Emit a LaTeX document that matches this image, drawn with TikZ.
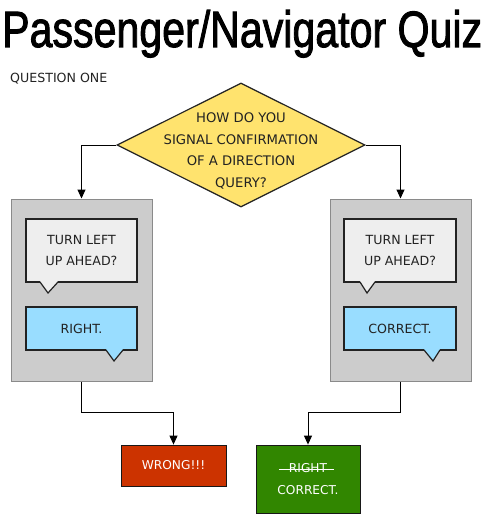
\documentclass[tikz,border=0pt]{standalone}
\usepackage{fontspec}
\usepackage{graphicx}
\setmainfont{DejaVu Sans}
\newfontfamily\titlefont[FakeBold=2]{Liberation Sans}
\usetikzlibrary{shapes.geometric,arrows.meta}
\definecolor{qyellow}{HTML}{FFE36E}
\definecolor{qgray}{HTML}{CCCCCC}
\definecolor{qgrayline}{HTML}{8A8A8A}
\definecolor{qwhite}{HTML}{EEEEEE}
\definecolor{qblue}{HTML}{99DDFF}
\definecolor{qred}{HTML}{CC3300}
\definecolor{qgreen}{HTML}{318600}
\definecolor{qtext}{HTML}{222222}
\newcommand\strikeit[1]{\setbox0\hbox{#1}\rlap{\hskip-10pt\raisebox{0.4ex}{\rule{\dimexpr\wd0+17pt\relax}{0.9pt}}}\box0}
\newcommand\calltail[5]{%
  \fill[#5] ([xshift=#2pt,yshift=0.9pt]#1.south west) -- ([xshift=#4pt,yshift=-11pt]#1.south west) -- ([xshift=#3pt,yshift=0.9pt]#1.south west) -- cycle;
  \draw[calloutline] ([xshift=#2pt]#1.south west) -- ([xshift=#4pt,yshift=-11pt]#1.south west) -- ([xshift=#3pt]#1.south west);}
\tikzset{
  txt/.style={text=qtext, font=\fontsize{12.6}{21}\selectfont, align=center},
  calloutline/.style={draw=qtext, line width=1.2pt, line join=miter},
  question/.style={diamond, draw=qtext, fill=qyellow, line width=1.2pt, inner sep=0pt, minimum width=248pt, minimum height=124pt},
  graybox/.style={draw=qgrayline, fill=qgray, line width=1pt, minimum width=141pt, minimum height=182pt},
  callbox/.style={calloutline, outer sep=0pt, inner sep=0pt, txt, minimum width=111pt},
  endbox/.style={draw=qtext!70!black, line width=0.8pt, text=white, font=\fontsize{12.2}{22}\selectfont, align=center, minimum width=105pt},
  arr/.style={draw=black, line width=1pt, -{Triangle[length=9pt,width=8pt]}}
}
\begin{document}
\begin{tikzpicture}[x=1pt,y=-1pt]
\useasboundingbox[fill=white] (0,0) rectangle (485,516);
\node[anchor=base west, inner sep=0pt] (title) at (2,47) {\resizebox{480pt}{37pt}{\titlefont Passenger/Navigator Quiz}};
\node[anchor=base west, inner sep=0pt, text=qtext, font=\fontsize{12.6}{14}\selectfont] (q1) at (10,83) {QUESTION ONE};

\node[question] (q) at (241,145) {};
\node[txt, font=\fontsize{13.2}{21.5}\selectfont] (qt) at (241,151) {HOW DO YOU\\SIGNAL CONFIRMATION\\OF A DIRECTION\\QUERY?};

\node[graybox] (gl) at (81.5,290) {};
\node[graybox] (gr) at (400.5,290) {};

\node[callbox, fill=qwhite, minimum height=63pt] (wl) at (81.5,250.5) {TURN LEFT\\UP AHEAD?};
\calltail{wl}{14}{32}{22}{qwhite}
\node[callbox, fill=qblue, minimum height=43pt] (bl) at (81.5,328.5) {RIGHT.};
\calltail{bl}{80}{97}{88}{qblue}

\node[callbox, fill=qwhite, minimum height=63pt, minimum width=112pt] (wr) at (400,250.5) {TURN LEFT\\UP AHEAD?};
\calltail{wr}{16}{31}{23}{qwhite}
\node[callbox, fill=qblue, minimum height=43pt, minimum width=112pt] (br) at (400,328.5) {CORRECT.};
\calltail{br}{80}{96}{89}{qblue}

\node[endbox, fill=qred, minimum height=41pt] (wrong) at (173.5,465.5) {WRONG!!!};
\node[endbox, fill=qgreen, minimum height=68pt, minimum width=104pt] (right) at (308,479) {\strikeit{RIGHT}\\CORRECT.};

\draw[arr] (q.west) -| (gl.north);
\draw[arr] (q.east) -| (gr.north);
\draw[arr] (gl.south) -- ++(0,31) -| (wrong.north);
\draw[arr] (gr.south) -- ++(0,31) -| (right.north);
\end{tikzpicture}
\end{document}
